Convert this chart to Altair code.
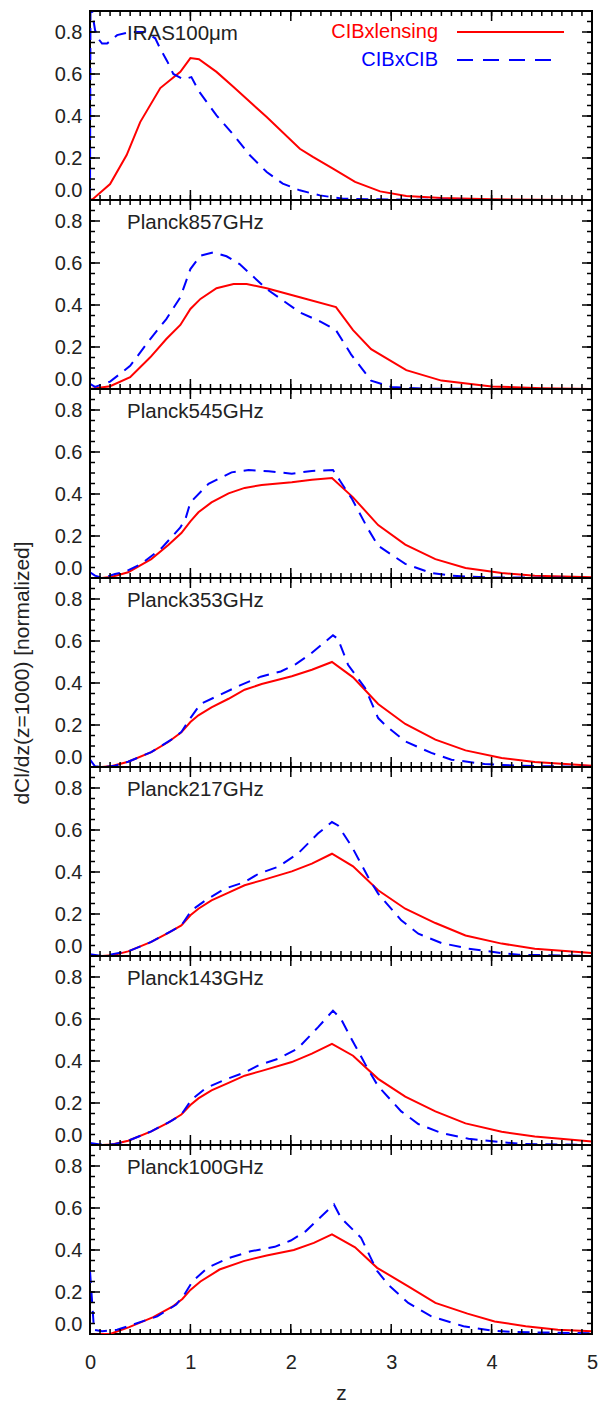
import altair as alt
import pandas as pd

FONT = "Liberation Sans"
TXT = "#222222"
W, H = 502, 189

PANELS = ["IRAS100\u03bcm", "Planck857GHz", "Planck545GHz", "Planck353GHz",
          "Planck217GHz", "Planck143GHz", "Planck100GHz"]

X_MAJOR = [0, 1, 2, 3, 4, 5]
X_MINOR = [round(0.1 * i, 1) for i in range(51)]
Y_MAJOR = [0.0, 0.2, 0.4, 0.6, 0.8]
Y_MINOR = [round(0.05 * i, 2) for i in range(19)]

LEGEND_LABELS = ["CIBxlensing", "CIBxCIB"]
LEGEND_COLORS = ["#ff0000", "#0000ff"]

# ---- CIB x lensing (red, solid) ----
red_z = [
    [0, 0.03, 0.2, 0.365, 0.5, 0.7, 0.9, 1.0, 1.085, 1.26, 1.43, 1.76, 2.09, 2.22, 2.42, 2.64, 2.89, 3.15, 3.5, 4.0, 4.5, 5.0],
    [0, 0.2, 0.4, 0.6, 0.76, 0.9, 1.0, 1.1, 1.26, 1.43, 1.56, 1.76, 2.09, 2.45, 2.62, 2.8, 3.15, 3.5, 4.0, 4.5, 5.0],
    [0, 0.12, 0.22, 0.38, 0.61, 0.78, 0.91, 1.0, 1.08, 1.21, 1.38, 1.54, 1.71, 2.01, 2.21, 2.41, 2.62, 2.87, 3.14, 3.44, 3.74, 4.1, 4.43, 5.0],
    [0, 0.12, 0.22, 0.38, 0.61, 0.78, 0.91, 1.0, 1.08, 1.21, 1.38, 1.54, 1.71, 2.01, 2.21, 2.41, 2.62, 2.87, 3.14, 3.44, 3.74, 4.1, 4.43, 5.0],
    [0, 0.12, 0.22, 0.38, 0.61, 0.78, 0.91, 1.0, 1.08, 1.21, 1.38, 1.54, 1.71, 2.01, 2.21, 2.41, 2.62, 2.87, 3.14, 3.44, 3.74, 4.1, 4.43, 5.0],
    [0, 0.12, 0.22, 0.38, 0.61, 0.78, 0.91, 1.0, 1.08, 1.21, 1.38, 1.54, 1.71, 2.01, 2.21, 2.41, 2.62, 2.87, 3.14, 3.44, 3.74, 4.1, 4.43, 5.0],
    [0, 0.2, 0.39, 0.63, 0.82, 0.92, 1.0, 1.1, 1.29, 1.53, 1.76, 2.03, 2.23, 2.41, 2.64, 2.86, 3.17, 3.44, 3.76, 4.03, 4.34, 4.66, 5.0],
]
red_v = [
    [0, 0.005, 0.076, 0.214, 0.371, 0.533, 0.61, 0.676, 0.67, 0.61, 0.538, 0.395, 0.244, 0.205, 0.149, 0.086, 0.041, 0.019, 0.01, 0.003, 0.001, 0],
    [0, 0.013, 0.056, 0.151, 0.238, 0.305, 0.381, 0.429, 0.48, 0.50, 0.50, 0.48, 0.437, 0.39, 0.28, 0.19, 0.09, 0.04, 0.012, 0.004, 0.0],
    [0, 0, 0.006, 0.027, 0.09, 0.157, 0.214, 0.27, 0.313, 0.36, 0.403, 0.429, 0.443, 0.456, 0.468, 0.476, 0.384, 0.252, 0.159, 0.09, 0.048, 0.024, 0.011, 0.003],
    [0, 0, 0.005, 0.025, 0.071, 0.119, 0.165, 0.214, 0.246, 0.284, 0.325, 0.368, 0.395, 0.432, 0.463, 0.5, 0.427, 0.3, 0.205, 0.13, 0.079, 0.043, 0.024, 0.006],
    [0, 0, 0.003, 0.022, 0.067, 0.11, 0.146, 0.194, 0.225, 0.265, 0.302, 0.337, 0.36, 0.403, 0.44, 0.487, 0.427, 0.313, 0.225, 0.157, 0.098, 0.059, 0.035, 0.014],
    [0, 0, 0.002, 0.02, 0.065, 0.107, 0.145, 0.19, 0.222, 0.26, 0.296, 0.33, 0.353, 0.395, 0.435, 0.482, 0.425, 0.315, 0.23, 0.16, 0.103, 0.063, 0.04, 0.017],
    [0, 0.0, 0.033, 0.08, 0.13, 0.167, 0.21, 0.25, 0.307, 0.347, 0.374, 0.40, 0.434, 0.474, 0.413, 0.315, 0.227, 0.148, 0.097, 0.06, 0.037, 0.02, 0.013],
]

# ---- CIB x CIB (blue, dashed) ----
blue_z = [
    [0, 0.005, 0.03, 0.05, 0.08, 0.12, 0.17, 0.27, 0.4, 0.55, 0.65, 0.7, 0.77, 0.83, 0.93, 1.01, 1.09, 1.26, 1.43, 1.59, 1.76, 1.92, 2.09, 2.29, 2.52, 3.0, 4.0, 5.0],
    [0, 0.05, 0.2, 0.4, 0.6, 0.76, 0.9, 1.0, 1.1, 1.23, 1.36, 1.49, 1.76, 2.09, 2.3, 2.45, 2.6, 2.8, 3.0, 3.3, 4.0, 5.0],
    [0, 0.05, 0.12, 0.25, 0.35, 0.51, 0.71, 0.9, 0.95, 1.0, 1.18, 1.41, 1.58, 1.78, 2.01, 2.21, 2.42, 2.49, 2.61, 2.77, 2.87, 3.14, 3.4, 3.6, 3.93, 5.0],
    [0, 0.05, 0.15, 0.25, 0.38, 0.61, 0.81, 0.91, 1.0, 1.1, 1.3, 1.5, 1.7, 1.9, 2.05, 2.2, 2.42, 2.47, 2.57, 2.74, 2.87, 2.94, 3.14, 3.4, 3.6, 3.93, 4.27, 5.0],
    [0, 0.12, 0.38, 0.61, 0.81, 0.91, 1.01, 1.15, 1.34, 1.54, 1.68, 1.87, 2.07, 2.27, 2.41, 2.47, 2.61, 2.77, 2.87, 3.1, 3.27, 3.5, 3.77, 4.1, 4.27, 5.0],
    [0, 0.1, 0.25, 0.38, 0.61, 0.81, 0.91, 1.01, 1.15, 1.34, 1.54, 1.68, 1.87, 2.07, 2.27, 2.42, 2.5, 2.61, 2.77, 2.87, 3.1, 3.27, 3.5, 3.77, 4.1, 4.3, 5.0],
    [0, 0.04, 0.12, 0.27, 0.43, 0.67, 0.86, 0.94, 1.02, 1.17, 1.37, 1.6, 1.84, 2.0, 2.15, 2.43, 2.5, 2.7, 2.86, 2.97, 3.17, 3.4, 3.72, 3.99, 4.19, 5.0],
]
blue_v = [
    [0, 0.95, 0.87, 0.81, 0.77, 0.745, 0.745, 0.785, 0.80, 0.80, 0.77, 0.72, 0.66, 0.60, 0.575, 0.585, 0.514, 0.403, 0.31, 0.214, 0.133, 0.078, 0.046, 0.022, 0.006, 0.002, 0.0, 0.0],
    [0.025, 0.01, 0.035, 0.11, 0.238, 0.333, 0.437, 0.571, 0.635, 0.651, 0.632, 0.595, 0.476, 0.365, 0.32, 0.28, 0.165, 0.04, 0.01, 0.002, 0, 0],
    [0.027, 0.011, 0, 0.019, 0.03, 0.067, 0.141, 0.241, 0.28, 0.36, 0.448, 0.503, 0.514, 0.508, 0.497, 0.51, 0.514, 0.463, 0.376, 0.233, 0.154, 0.067, 0.024, 0.011, 0.003, 0],
    [0.035, 0.003, 0, 0.006, 0.025, 0.071, 0.13, 0.167, 0.233, 0.30, 0.345, 0.39, 0.43, 0.455, 0.49, 0.54, 0.627, 0.61, 0.487, 0.376, 0.233, 0.2, 0.122, 0.067, 0.035, 0.014, 0.006, 0],
    [0.008, 0, 0.022, 0.067, 0.119, 0.146, 0.217, 0.265, 0.32, 0.352, 0.392, 0.424, 0.487, 0.583, 0.638, 0.622, 0.519, 0.376, 0.297, 0.17, 0.106, 0.062, 0.035, 0.014, 0.006, 0],
    [0.01, 0.002, 0.005, 0.02, 0.065, 0.115, 0.145, 0.215, 0.27, 0.31, 0.345, 0.38, 0.41, 0.46, 0.56, 0.64, 0.6, 0.5, 0.36, 0.28, 0.16, 0.1, 0.057, 0.03, 0.013, 0.005, 0.0],
    [0.30, 0.02, 0.013, 0.02, 0.045, 0.084, 0.14, 0.188, 0.25, 0.315, 0.36, 0.394, 0.415, 0.445, 0.49, 0.617, 0.553, 0.458, 0.30, 0.235, 0.148, 0.084, 0.037, 0.017, 0.01, 0.003],
]

XS = alt.Scale(domain=[0, 5], nice=False, zero=False)
YS = alt.Scale(domain=[0, 0.9], nice=False, zero=False)


def tick_layers():
    layers = []
    for vals, L in ((Y_MAJOR, 10), (Y_MINOR, 5)):
        base = alt.Chart(pd.DataFrame({"v": vals})).mark_rule(color="black", strokeWidth=1.5)
        layers.append(base.encode(y=alt.Y("v:Q", scale=YS), x=alt.value(0), x2=alt.value(L)))
        layers.append(base.encode(y=alt.Y("v:Q", scale=YS), x=alt.value(W), x2=alt.value(W - L)))
    for vals, L in ((X_MAJOR, 10), (X_MINOR, 5)):
        base = alt.Chart(pd.DataFrame({"z": vals})).mark_rule(color="black", strokeWidth=1.5)
        layers.append(base.encode(x=alt.X("z:Q", scale=XS), y=alt.value(H), y2=alt.value(H - L)))
        layers.append(base.encode(x=alt.X("z:Q", scale=XS), y=alt.value(0), y2=alt.value(L)))
    return layers


def panel(i):
    last = i == len(PANELS) - 1
    if last:
        xaxis = alt.Axis(values=X_MAJOR, format="d", title="z", labelPadding=18,
                         titlePadding=10, ticks=False, domain=False, grid=False,
                         labelFlush=False)
    else:
        xaxis = None
    ytitle = "dCl/dz(z=1000) [normalized]" if i == 3 else None
    yaxis = alt.Axis(values=Y_MAJOR, format=".1f", title=ytitle, labelPadding=8,
                     titlePadding=22, ticks=False, domain=False, grid=False, labelFlush=True)

    red = alt.Chart(pd.DataFrame({"z": red_z[i], "v": red_v[i]})).mark_line(
        color="#ff0000", strokeWidth=2, clip=True).encode(
        x=alt.X("z:Q", scale=XS, axis=xaxis),
        y=alt.Y("v:Q", scale=YS, axis=yaxis))
    blue = alt.Chart(pd.DataFrame({"z": blue_z[i], "v": blue_v[i]})).mark_line(
        color="#0000ff", strokeWidth=2, strokeDash=[12, 8], clip=True).encode(
        x=alt.X("z:Q", scale=XS), y=alt.Y("v:Q", scale=YS))
    label = alt.Chart(pd.DataFrame({"name": [PANELS[i]]})).mark_text(
        align="left", baseline="middle", font=FONT, fontSize=20.5, color=TXT).encode(
        x=alt.value(37), y=alt.value(23), text="name:N")

    layers = [red, blue] + tick_layers() + [label]

    if i == 0:
        ys = [21, 49]
        for k, (lab, col) in enumerate(zip(LEGEND_LABELS, LEGEND_COLORS)):
            ldf = pd.DataFrame({"label": [lab]})
            layers.append(alt.Chart(ldf).mark_text(
                align="right", baseline="middle", font=FONT, fontSize=20, color=col).encode(
                x=alt.value(348), y=alt.value(ys[k]), text="label:N"))
            rule = alt.Chart(ldf).mark_rule(
                color=col, strokeWidth=2, strokeDash=([] if k == 0 else [16, 10]))
            layers.append(rule.encode(x=alt.value(367), x2=alt.value(474 if k == 0 else 461),
                                      y=alt.value(ys[k])))
    return alt.layer(*layers).properties(width=W, height=H)


chart = alt.vconcat(*[panel(i) for i in range(len(PANELS))], spacing=0, bounds="flush").properties(
    padding={"left": 2, "top": 1, "right": 5, "bottom": 5}
).configure_view(stroke="black", strokeWidth=2).configure_axis(
    labelFont=FONT, labelFontSize=20, labelColor=TXT,
    titleFont=FONT, titleFontSize=21, titleFontWeight="normal", titleColor=TXT
)

chart.save("out.html", embed_options={"renderer": "svg", "actions": False})
